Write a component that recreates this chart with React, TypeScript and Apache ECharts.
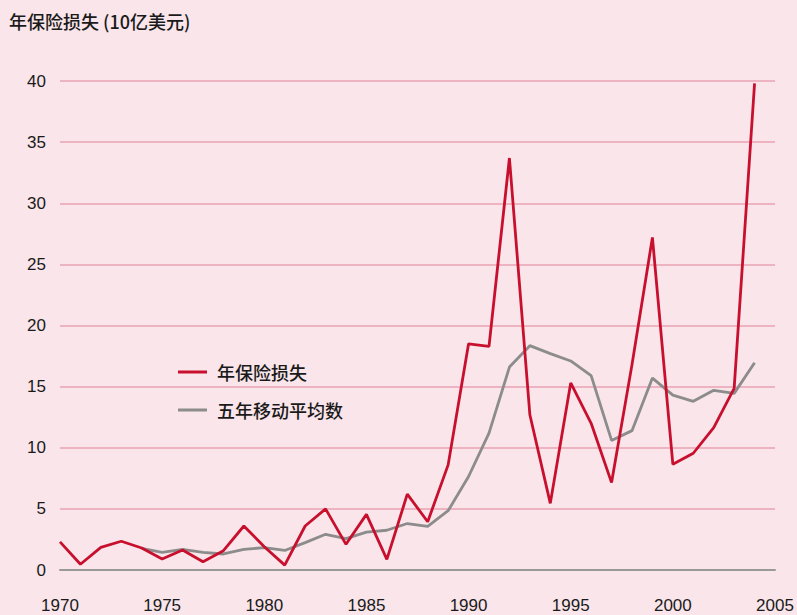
import React, { useEffect, useRef } from "react";
import * as echarts from "echarts";

const years = [
  1970, 1971, 1972, 1973, 1974, 1975, 1976, 1977, 1978, 1979,
  1980, 1981, 1982, 1983, 1984, 1985, 1986, 1987, 1988, 1989,
  1990, 1991, 1992, 1993, 1994, 1995, 1996, 1997, 1998, 1999,
  2000, 2001, 2002, 2003, 2004,
];

const annualLosses = [
  2.3, 0.47, 1.85, 2.35, 1.8, 0.9, 1.64, 0.68, 1.58, 3.6,
  1.9, 0.4, 3.6, 5.0, 2.1, 4.55, 0.87, 6.2, 3.95, 8.6,
  18.5, 18.3, 33.7, 12.7, 5.45, 15.3, 12.0, 7.15, 16.8, 27.2,
  8.65, 9.55, 11.65, 14.85, 39.8,
];

const movingAvgYears = [
  1974, 1975, 1976, 1977, 1978, 1979, 1980, 1981, 1982, 1983,
  1984, 1985, 1986, 1987, 1988, 1989, 1990, 1991, 1992, 1993,
  1994, 1995, 1996, 1997, 1998, 1999, 2000, 2001, 2002, 2003, 2004,
];

const movingAvg = [
  1.77, 1.45, 1.69, 1.45, 1.31, 1.69, 1.83, 1.6, 2.24, 2.92,
  2.56, 3.1, 3.25, 3.8, 3.57, 4.85, 7.65, 11.2, 16.6, 18.35,
  17.7, 17.1, 15.9, 10.6, 11.4, 15.7, 14.3, 13.8, 14.7, 14.45, 16.95,
];

const seriesNames = ["年保险损失", "五年移动平均数"];
const titleText = "年保险损失 (10亿美元)";

const FONT = "'Liberation Sans', 'Noto Sans CJK SC', sans-serif";
const CJK = "'Noto Sans CJK SC', 'Liberation Sans', sans-serif";

export default function App() {
  const ref = useRef<HTMLDivElement>(null);
  useEffect(() => {
    if (!ref.current) return;
    const chart = echarts.init(ref.current, undefined, { renderer: "svg" });
    chart.setOption({
      animation: false,
      backgroundColor: "#f9e5ea",
      title: {
        text: titleText,
        left: 4,
        top: 7,
        textStyle: { fontFamily: CJK, fontSize: 18, fontWeight: 500, color: "#1a1a1a" },
      },
      legend: {
        orient: "vertical",
        left: 173,
        top: 357,
        icon: "rect",
        itemWidth: 29,
        itemHeight: 3,
        itemGap: 18,
        textStyle: { fontFamily: CJK, fontSize: 18, fontWeight: 500, color: "#1a1a1a", padding: [0, 0, 0, 5], lineHeight: 20 },
        data: seriesNames,
      },
      grid: { left: 60, right: 22, top: 81, bottom: 45 },
      xAxis: {
        type: "value",
        min: 1970,
        max: 2005,
        interval: 5,
        axisLine: { show: true, lineStyle: { color: "#999999", width: 2 } },
        axisTick: { show: false },
        splitLine: { show: false },
        axisLabel: {
          margin: 27,
          fontFamily: FONT,
          fontSize: 17,
          color: "#1a1a1a",
          showMinLabel: true,
          showMaxLabel: true,
          formatter: (v: number) => String(v),
        },
      },
      yAxis: {
        type: "value",
        min: 0,
        max: 40,
        interval: 5,
        axisLine: { show: false },
        axisTick: { show: false },
        splitLine: { show: true, lineStyle: { color: "#e8a2b2", width: 1.5 } },
        axisLabel: {
          margin: 14,
          fontFamily: FONT,
          fontSize: 17,
          color: "#1a1a1a",
        },
      },
      series: [
        {
          name: seriesNames[0],
          type: "line",
          symbol: "none",
          z: 3,
          lineStyle: { color: "#c8102e", width: 2.8 },
          itemStyle: { color: "#c8102e" },
          data: years.map((y, i) => [y, annualLosses[i]]),
        },
        {
          name: seriesNames[1],
          type: "line",
          symbol: "none",
          z: 2,
          lineStyle: { color: "#8c8c8c", width: 2.8 },
          itemStyle: { color: "#8c8c8c" },
          data: movingAvgYears.map((y, i) => [y, movingAvg[i]]),
        },
      ],
    });
    return () => chart.dispose();
  }, []);
  return (
    <div
      ref={ref}
      style={{ position: "fixed", left: 0, top: 0, width: 797, height: 615 }}
    />
  );
}
